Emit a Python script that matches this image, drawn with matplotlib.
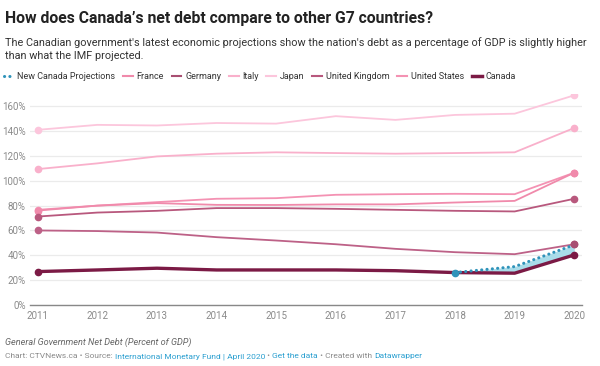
import matplotlib
matplotlib.use("Agg")
import matplotlib.pyplot as plt
from matplotlib.lines import Line2D

plt.rcParams['font.family'] = ['Roboto', 'DejaVu Sans']

# -- Data ----------------------------------------------------------------
years = [2011, 2012, 2013, 2014, 2015, 2016, 2017, 2018, 2019, 2020]
france = [76.0, 80.0, 82.0, 80.6, 80.5, 81.0, 81.0, 82.5, 83.8, 106.5]
germany = [60.0, 59.5, 58.3, 54.6, 51.9, 48.9, 45.2, 42.5, 40.9, 48.9]
italy = [109.4, 114.0, 119.6, 121.8, 122.9, 122.3, 121.8, 122.3, 122.9, 142.5]
japan = [141.0, 145.0, 144.5, 146.5, 146.0, 152.0, 149.0, 153.0, 154.0, 168.8]
uk = [71.2, 74.4, 75.8, 78.0, 78.0, 77.4, 76.6, 75.8, 75.3, 85.5]
usa = [76.6, 80.0, 82.8, 85.5, 86.0, 88.7, 89.2, 89.5, 89.2, 106.5]
canada = [26.9, 28.2, 29.6, 28.2, 28.2, 28.2, 27.6, 26.1, 25.6, 40.3]
proj_years = [2018, 2019, 2020]
new_canada = [26.1, 30.9, 48.4]
yticks = [0, 20, 40, 60, 80, 100, 120, 140, 160]

# name, values, colour, width
series = [
    ("Japan", japan, "#fcc6dc", 1.3),
    ("Italy", italy, "#f9b0cb", 1.3),
    ("United States", usa, "#f492b3", 1.3),
    ("France", france, "#f08aab", 1.3),
    ("United Kingdom", uk, "#b8587d", 1.3),
    ("Germany", germany, "#bd6187", 1.3),
]
DOTS = (0, (0.05, 1.7))

# -- Figure --------------------------------------------------------------
fig = plt.figure(figsize=(6, 3.66), dpi=100)
ax = fig.add_axes([0.05, 0.1667, 0.92, 0.577])

for name, vals, col, lw in series:
    ax.plot(years, vals, color=col, lw=lw, zorder=3)
    ax.plot([years[0], years[-1]], [vals[0], vals[-1]], 'o', color=col,
            ms=4.5, zorder=4)

# canada projection band
canada_tail = canada[-3:]
ax.fill_between(proj_years, canada_tail, new_canada, color="#a9dce9",
                lw=0, zorder=2)
ax.plot(years, canada, color="#7b1a45", lw=2.4, zorder=5,
        solid_capstyle='round')
ax.plot([years[0], years[-1]], [canada[0], canada[-1]], 'o',
        color="#7b1a45", ms=4.5, zorder=6)
ax.plot(proj_years, new_canada, color="#2f93ba", lw=2.2, ls=DOTS,
        dash_capstyle='round', zorder=7)
ax.plot([proj_years[0]], [new_canada[0]], 'o', color="#2f93ba", ms=4.5,
        zorder=7)
ax.plot([years[-1]], [germany[-1]], 'o', color="#a84f72", ms=4.5, zorder=8)

ax.set_xlim(2010.87, 2020.13)
ax.set_ylim(0, 170)
ax.set_xticks(years)
ax.set_yticks(yticks)
ax.set_yticklabels([str(t) + "%" for t in yticks])
ax.grid(axis='y', color="#ebebeb", lw=0.9, zorder=0)
for s in ["top", "right", "left"]:
    ax.spines[s].set_visible(False)
ax.spines["bottom"].set_color("#888888")
ax.spines["bottom"].set_linewidth(1.0)
ax.tick_params(axis='both', length=0, labelsize=7, colors="#8a8a8a")
ax.tick_params(axis='x', pad=4)
ax.tick_params(axis='y', pad=3)

# -- Legend --------------------------------------------------------------
handles = [
    Line2D([], [], color="#2f93ba", lw=2.2, ls=DOTS, dash_capstyle='round'),
    Line2D([], [], color="#f08aab", lw=1.5),
    Line2D([], [], color="#a84f72", lw=1.5),
    Line2D([], [], color="#f9b0cb", lw=1.5),
    Line2D([], [], color="#fcc6dc", lw=1.5),
    Line2D([], [], color="#b8587d", lw=1.5),
    Line2D([], [], color="#f492b3", lw=1.5),
    Line2D([], [], color="#7b1a45", lw=2.5),
]
labels = ["New Canada Projections", "France", "Germany", "Italy", "Japan",
          "United Kingdom", "United States", "Canada"]
fig.legend(handles, labels, loc="center left", bbox_to_anchor=(0.0, 0.79),
           ncol=8, frameon=False, fontsize=6.5, handlelength=1.1,
           handletextpad=0.4, columnspacing=0.85, borderaxespad=0,
           labelcolor="#333333")

# -- Titles --------------------------------------------------------------
fig.text(0.008, 0.95, "How does Canada\u2019s net debt compare to other G7 countries?",
         fontsize=11.3, fontweight='bold', color="#222222", va='center')
fig.text(0.008, 0.866,
         "The Canadian government's latest economic projections show the nation's debt as a percentage of GDP is slightly higher\nthan what the IMF projected.",
         fontsize=7.85, color="#333333", va='center', linespacing=1.38)

fig.text(0.008, 0.066, "General Government Net Debt (Percent of GDP)",
         fontsize=6.6, style='italic', color="#666666", va='center')

# source line with coloured links
parts = [("Chart: CTVNews.ca \u2022 Source: ", "#8a8a8a"),
         ("International Monetary Fund | April 2020", "#2a9fd0"),
         (" \u2022 ", "#8a8a8a"),
         ("Get the data", "#2a9fd0"),
         (" \u2022 Created with ", "#8a8a8a"),
         ("Datawrapper", "#2a9fd0")]
fig.canvas.draw()
renderer = fig.canvas.get_renderer()
x = 0.008
for txt, col in parts:
    t = fig.text(x, 0.026, txt, fontsize=6.05, color=col, va='center')
    bb = t.get_window_extent(renderer=renderer)
    x += bb.width / fig.bbox.width

fig.savefig("out.png", dpi=100)
